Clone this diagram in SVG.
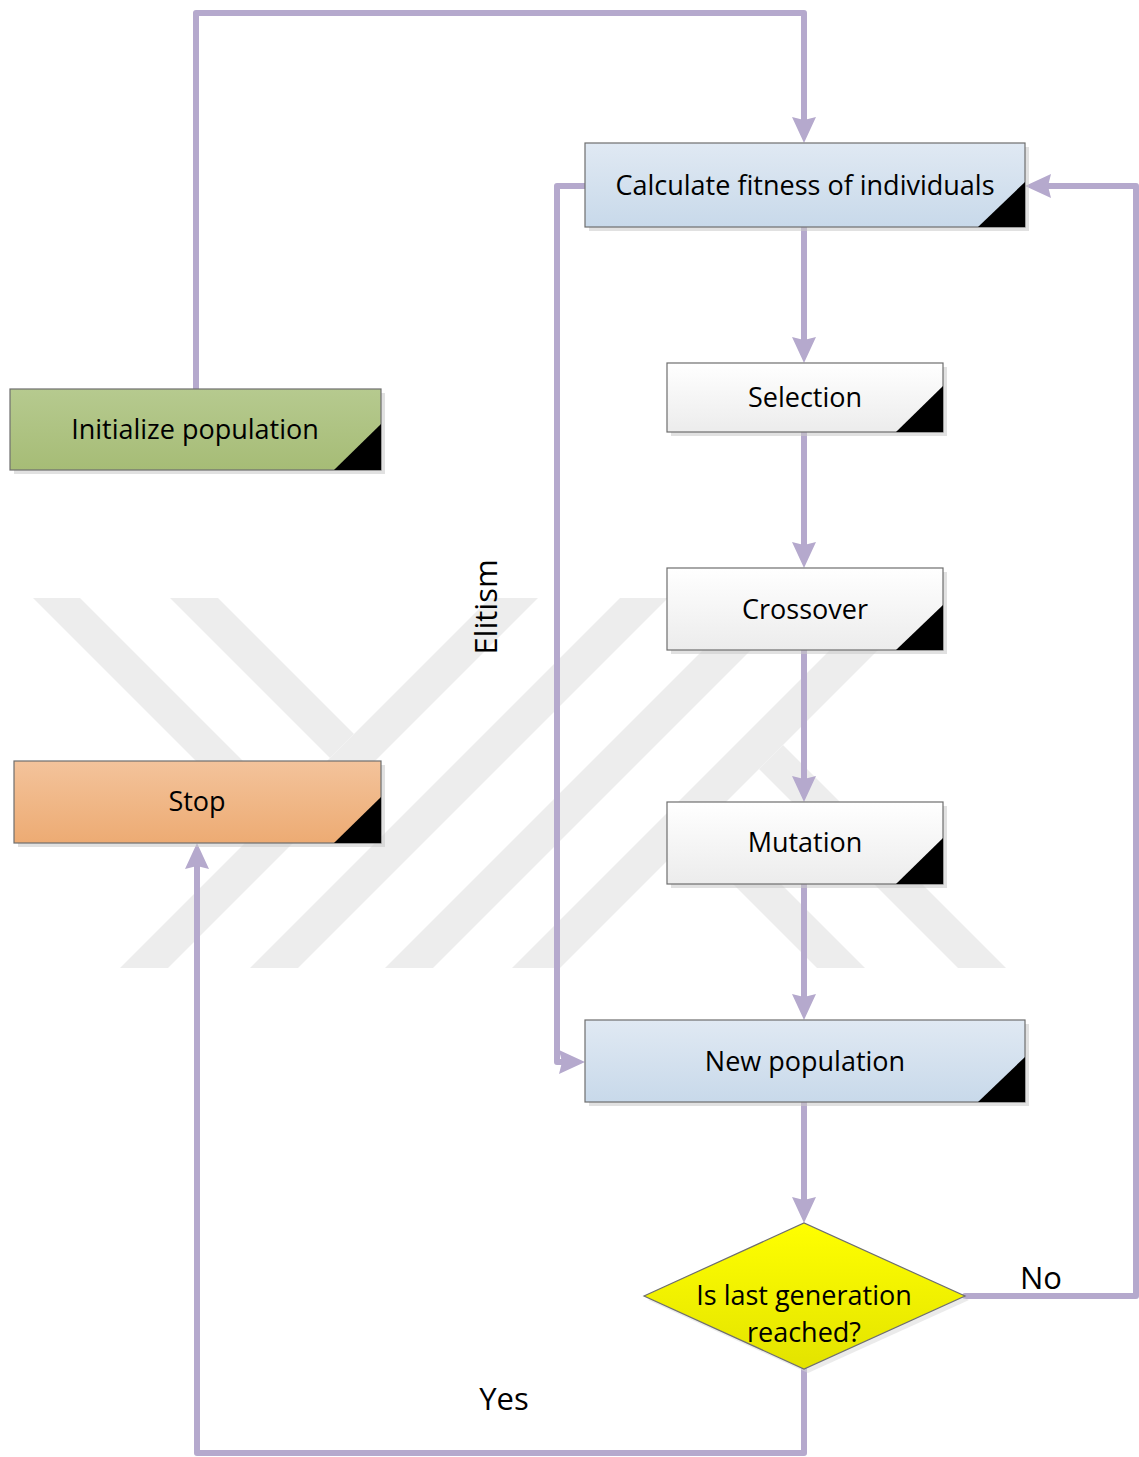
<svg xmlns="http://www.w3.org/2000/svg" width="1139" height="1457" viewBox="0 0 1139 1457">
<style>
.lbl{font-family:"Open Sans","Noto Sans",sans-serif;font-size:27px;fill:#000;text-anchor:middle}
.big{font-size:31px}
.box{stroke:#6e6e6e;stroke-width:1.2}
.shd{fill:#c8c8c8;opacity:0.55}
.tri{fill:#000}
.wm{fill:#ededed}
.con{fill:none;stroke:#b5a9cd;stroke-width:6;stroke-linecap:round;stroke-linejoin:round}
</style>
<defs>
<linearGradient id="gBlue" x1="0" y1="0" x2="0" y2="1"><stop offset="0" stop-color="#e0e9f3"/><stop offset="1" stop-color="#c8d9ea"/></linearGradient>
<linearGradient id="gWhite" x1="0" y1="0" x2="0" y2="1"><stop offset="0" stop-color="#ffffff"/><stop offset="1" stop-color="#ececec"/></linearGradient>
<linearGradient id="gGreen" x1="0" y1="0" x2="0" y2="1"><stop offset="0" stop-color="#b6ca8f"/><stop offset="1" stop-color="#a6bc76"/></linearGradient>
<linearGradient id="gOrange" x1="0" y1="0" x2="0" y2="1"><stop offset="0" stop-color="#f3c39b"/><stop offset="1" stop-color="#edab73"/></linearGradient>
<linearGradient id="gYellow" x1="0" y1="0" x2="0" y2="1"><stop offset="0" stop-color="#ffff00"/><stop offset="1" stop-color="#e3e300"/></linearGradient>
<marker id="arr" viewBox="0 0 26 24" refX="6" refY="12" markerWidth="26" markerHeight="24" markerUnits="userSpaceOnUse" orient="auto">
<path d="M0,0 L26,12 L0,24 L3,12 Z" fill="#b5a9cd"/>
</marker>
<clipPath id="wmclip"><rect x="0" y="598" width="1139" height="370"/></clipPath>
</defs>
<rect width="1139" height="1457" fill="#ffffff"/>
<g id="watermark" clip-path="url(#wmclip)">
<polygon class="wm" points="120,968 168,968 538,598 490,598"/>
<polygon class="wm" points="250,968 298,968 668,598 620,598"/>
<polygon class="wm" points="385,968 433,968 803,598 755,598"/>
<polygon class="wm" points="512,968 560,968 930,598 882,598"/>
<polygon class="wm" points="33,598 80,598 285,803 261.5,826.5"/>
<polygon class="wm" points="170,598 218,598 354,734 330,758"/>
<polygon class="wm" points="759,769 783,745 1006,968 958,968"/>
<polygon class="wm" points="688.5,839.5 712.5,815.5 865,968 817,968"/>
</g>
<g id="connectors">
<path class="con" d="M196,389 V13 H804 V123" marker-end="url(#arr)"/>
<path class="con" d="M804,227 V343" marker-end="url(#arr)"/>
<path class="con" d="M804,432 V548" marker-end="url(#arr)"/>
<path class="con" d="M804,650 V782" marker-end="url(#arr)"/>
<path class="con" d="M804,884 V1000" marker-end="url(#arr)"/>
<path class="con" d="M804,1102 V1203" marker-end="url(#arr)"/>
<path class="con" d="M965,1296 H1136 V186 H1045" marker-end="url(#arr)"/>
<path class="con" d="M804,1369 V1453 H197 V863" marker-end="url(#arr)"/>
<path class="con" d="M585,186 H557 V1062 H565" marker-end="url(#arr)"/>
</g>
<g id="calc">
<rect class="shd" x="589" y="147" width="440" height="84"/>
<rect class="box" x="585" y="143" width="440" height="84" fill="url(#gBlue)"/>
<polygon class="tri" points="978,227 1025,227 1025,182"/>
<text class="lbl" x="805" y="195">Calculate fitness of individuals</text>
</g>
<g id="selection">
<rect class="shd" x="671" y="367" width="276" height="69"/>
<rect class="box" x="667" y="363" width="276" height="69" fill="url(#gWhite)"/>
<polygon class="tri" points="896,432 943,432 943,386"/>
<text class="lbl" x="805" y="407">Selection</text>
</g>
<g id="crossover">
<rect class="shd" x="671" y="572" width="276" height="82"/>
<rect class="box" x="667" y="568" width="276" height="82" fill="url(#gWhite)"/>
<polygon class="tri" points="896,650 943,650 943,605"/>
<text class="lbl" x="805" y="619">Crossover</text>
</g>
<g id="mutation">
<rect class="shd" x="671" y="806" width="276" height="82"/>
<rect class="box" x="667" y="802" width="276" height="82" fill="url(#gWhite)"/>
<polygon class="tri" points="896,884 943,884 943,838"/>
<text class="lbl" x="805" y="852">Mutation</text>
</g>
<g id="newpop">
<rect class="shd" x="589" y="1024" width="440" height="82"/>
<rect class="box" x="585" y="1020" width="440" height="82" fill="url(#gBlue)"/>
<polygon class="tri" points="978,1102 1025,1102 1025,1057"/>
<text class="lbl" x="805" y="1071">New population</text>
</g>
<g id="init">
<rect class="shd" x="14" y="393" width="371" height="81"/>
<rect class="box" x="10" y="389" width="371" height="81" fill="url(#gGreen)"/>
<polygon class="tri" points="334,470 381,470 381,424"/>
<text class="lbl" x="195" y="439">Initialize population</text>
</g>
<g id="stop">
<rect class="shd" x="18" y="765" width="367" height="82"/>
<rect class="box" x="14" y="761" width="367" height="82" fill="url(#gOrange)"/>
<polygon class="tri" points="334,843 381,843 381,797"/>
<text class="lbl" x="197" y="811">Stop</text>
</g>
<g id="decision">
<polygon points="648,1300 808,1227 969,1300 808,1373" fill="#d8d8d8" opacity="0.5"/>
<polygon class="box" points="644,1296 804,1223 965,1296 804,1369" fill="url(#gYellow)"/>
<text class="lbl" x="804" y="1305">Is last generation</text>
<text class="lbl" x="804" y="1342">reached?</text>
</g>
<g id="labels">
<text class="lbl big" transform="translate(497,607) rotate(-90)">Elitism</text>
<text class="lbl big" x="1041" y="1289">No</text>
<text class="lbl big" x="504" y="1410">Yes</text>
</g>
</svg>
